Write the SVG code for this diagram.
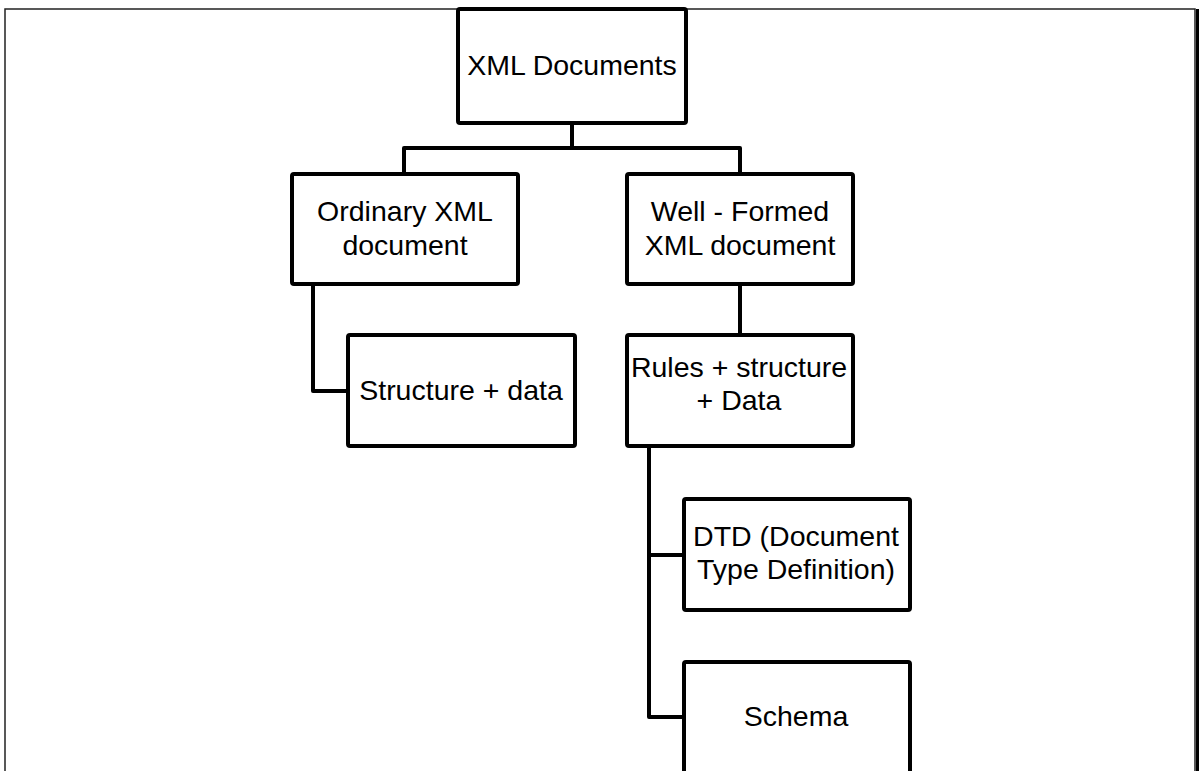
<svg xmlns="http://www.w3.org/2000/svg" width="1199" height="771" viewBox="0 0 1199 771">
<style>
.box{fill:#fff;stroke:#000;stroke-width:4;stroke-linejoin:round}
.lbl{font-family:"Liberation Sans",Arial,sans-serif;font-size:28.5px;fill:#000;text-anchor:middle}
.conn{fill:none;stroke:#000;stroke-width:4;stroke-linejoin:round}
</style>
<rect x="0" y="0" width="1199" height="771" fill="#fff"/>
<rect x="5" y="9" width="1190" height="780" fill="none" stroke="#222" stroke-width="1.5"/>
<rect x="1196" y="9" width="3" height="762" fill="#000"/>
<g id="connectors">
<path class="conn" d="M572,123 V148"/>
<path class="conn" d="M404,174 V148 H740 V174"/>
<path class="conn" d="M313,283 V391 H348"/>
<path class="conn" d="M740,284 V335"/>
<path class="conn" d="M649,446 V717 H684"/>
<path class="conn" d="M649,555 H684"/>
</g>
<g id="xml-documents">
<rect class="box" x="458" y="9" width="228" height="114" rx="2"/>
<text class="lbl" x="572" y="75">XML Documents</text>
</g>
<g id="ordinary">
<rect class="box" x="292" y="174" width="226" height="110" rx="2"/>
<text class="lbl" x="405" y="221">Ordinary XML</text>
<text class="lbl" x="405" y="255">document</text>
</g>
<g id="well-formed">
<rect class="box" x="627" y="174" width="226" height="110" rx="2"/>
<text class="lbl" x="740" y="221">Well - Formed</text>
<text class="lbl" x="740" y="255">XML document</text>
</g>
<g id="structure-data">
<rect class="box" x="348" y="335" width="227" height="111" rx="2"/>
<text class="lbl" x="461" y="400">Structure + data</text>
</g>
<g id="rules">
<rect class="box" x="627" y="335" width="226" height="111" rx="2"/>
<text class="lbl" x="739" y="377">Rules + structure</text>
<text class="lbl" x="739" y="410">+ Data</text>
</g>
<g id="dtd">
<rect class="box" x="684" y="499" width="226" height="111" rx="2"/>
<text class="lbl" x="796" y="546">DTD (Document</text>
<text class="lbl" x="796" y="579">Type Definition)</text>
</g>
<g id="schema">
<rect class="box" x="684" y="662" width="226" height="130" rx="2"/>
<text class="lbl" x="796" y="726">Schema</text>
</g>
</svg>
